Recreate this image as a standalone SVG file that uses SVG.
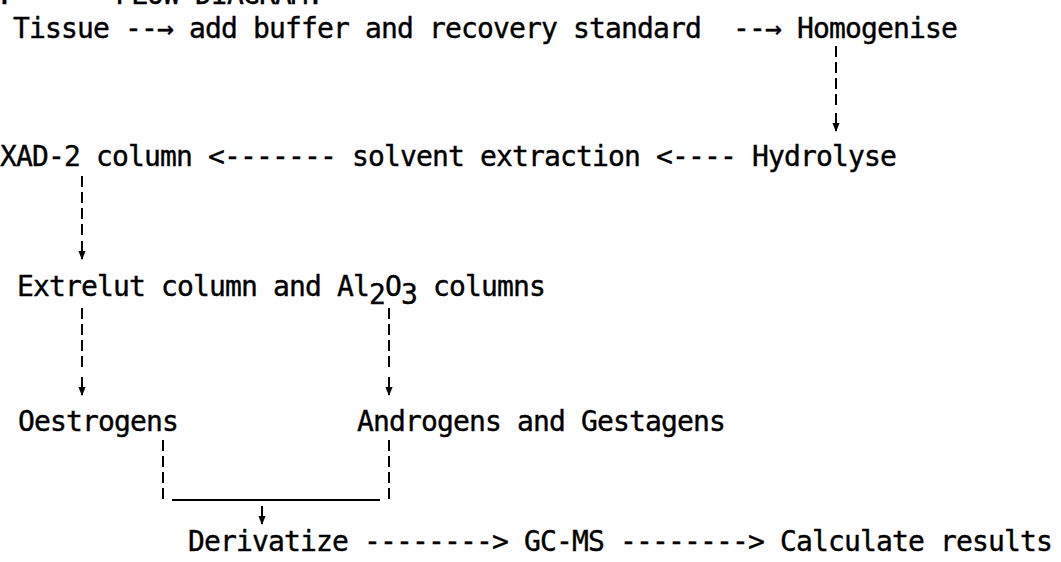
<svg xmlns="http://www.w3.org/2000/svg" width="1061" height="562" viewBox="0 0 1061 562">
<style>
  text { font-family: "DejaVu Sans Mono", "Liberation Mono", monospace; font-size: 28px; letter-spacing: -0.86px; fill: #000; stroke: #000; stroke-width: 0.4; white-space: pre; }
  .dash { stroke: #000; stroke-width: 2; stroke-dasharray: 11 5; fill: none; }
  .solid { stroke: #000; stroke-width: 2; fill: none; }
</style>
<defs>
  <marker id="ah" viewBox="0 0 10 10" refX="9" refY="5" markerWidth="9" markerHeight="9" markerUnits="userSpaceOnUse" orient="auto">
    <path d="M0,1 L10,5 L0,9 Z" fill="#000" stroke="none"/>
  </marker>
</defs>
<rect width="1061" height="562" fill="#fff"/>
<g id="title">
  <text x="-4" y="4">.</text>
  <text x="115" y="4">FLOW DIAGRAM.</text>
</g>
<g id="n-tissue"><text x="13" y="38">Tissue</text></g>
<g id="n-addbuffer"><text x="189" y="38">add buffer and recovery standard</text></g>
<g id="n-homogenise"><text x="797" y="38">Homogenise</text></g>
<g id="n-xad"><text x="0" y="166">XAD-2 column</text></g>
<g id="n-solvent"><text x="352" y="166">solvent extraction</text></g>
<g id="n-hydrolyse"><text x="752" y="166">Hydrolyse</text></g>
<g id="n-extrelut"><text x="17" y="296">Extrelut column and Al<tspan dy="8">2</tspan><tspan dy="-8">O</tspan><tspan dy="8">3</tspan><tspan dy="-8"> columns</tspan></text></g>
<g id="n-oestrogens"><text x="18" y="431">Oestrogens</text></g>
<g id="n-androgens"><text x="357" y="431">Androgens and Gestagens</text></g>
<g id="n-derivatize"><text x="188" y="551">Derivatize</text></g>
<g id="n-gcms"><text x="524" y="551">GC-MS</text></g>
<g id="n-calculate"><text x="780" y="551">Calculate results</text></g>
<g id="connectors">
  <text x="125" y="38">--→</text>
  <text x="733" y="38">--→</text>
  <text x="208" y="166">&lt;-------</text>
  <text x="656" y="166">&lt;----</text>
  <text x="364" y="551">--------&gt;</text>
  <text x="620" y="551">--------&gt;</text>
  <line class="dash" x1="836" y1="46" x2="836" y2="108"/>
  <line class="solid" x1="836" y1="113" x2="836" y2="131" marker-end="url(#ah)"/>
  <line class="dash" x1="82" y1="176" x2="82" y2="236"/>
  <line class="solid" x1="82" y1="241" x2="82" y2="259" marker-end="url(#ah)"/>
  <line class="dash" x1="82" y1="308" x2="82" y2="372"/>
  <line class="solid" x1="82" y1="377" x2="82" y2="395" marker-end="url(#ah)"/>
  <line class="dash" x1="389" y1="308" x2="389" y2="372"/>
  <line class="solid" x1="389" y1="377" x2="389" y2="395" marker-end="url(#ah)"/>
  <line class="dash" x1="163" y1="440" x2="163" y2="500"/>
  <line class="dash" x1="389" y1="440" x2="389" y2="500"/>
  <line class="solid" x1="172" y1="500" x2="380" y2="500"/>
  <line class="solid" x1="262" y1="506" x2="262" y2="524" marker-end="url(#ah)"/>
</g>
</svg>
